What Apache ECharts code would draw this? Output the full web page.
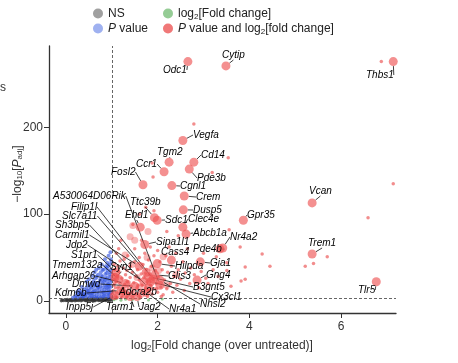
<!DOCTYPE html>
<html><head><meta charset="utf-8">
<script src="https://cdn.jsdelivr.net/npm/echarts@6/dist/echarts.min.js"></script>
<style>html,body{margin:0;padding:0;background:#fff}#c{width:458px;height:363px}</style>
</head><body><div id="c"></div>
<script>
// ---- data (log2 fold change, -log10 Padj) ----
const nsPoints = [[-0.1,0.2],[-0.05,0.5],[0,0.3],[0.02,0.8],[0.05,0.1],[0.08,1.0],[0.1,0.4],[0.12,1.5],[0.15,0.7],[0.18,1.2],[0.2,0.2],[0.22,2.0],[0.25,1.0],[0.28,0.5],[0.3,1.8],[0.32,2.5],[0.35,0.9],[0.38,1.4],[0.4,2.2],[0.42,0.3],[0.45,1.7],[0.48,2.8],[0.5,1.1],[0.52,0.6],[0.55,2.3],[0.58,1.5],[0.6,2.9],[0.62,0.8],[0.65,1.9],[0.68,2.6],[0.7,1.2],[0.72,0.4],[0.75,2.1],[0.78,2.8],[0.8,1.6],[0.82,0.9],[0.85,2.4],[0.88,1.3],[0.9,2.7],[0.92,0.5],[0.95,1.8],[0.97,2.2],[0.99,1.0],[-0.08,1.1],[0.03,1.6],[0.13,0.1],[0.23,0.6],[0.33,0.2],[0.43,1.0],[0.53,1.9],[0.63,0.2],[0.73,1.6],[0.83,2.9],[0.93,1.4],[0.36,2.9],[0.57,0.3],[0.67,1.0],[0.77,0.7],[0.87,0.3],[0.47,0.7],[0.6,0.5],[0.7,2.4],[0.8,0.3],[0.9,1.9],[0.96,0.6],[0.85,1.1],[0.75,0.9],[0.65,2.8],[0.55,0.9],[0.45,0.2]];
const pPoints = [[0.15,3.5],[0.2,4.5],[0.22,6],[0.25,3.8],[0.28,7.5],[0.3,5],[0.32,9],[0.35,4.2],[0.35,11],[0.38,6.5],[0.4,8],[0.4,13],[0.42,4.5],[0.45,10],[0.45,15],[0.48,6],[0.5,12],[0.5,18],[0.52,4],[0.52,8.5],[0.55,14],[0.55,20],[0.57,6],[0.58,10],[0.6,16],[0.6,23],[0.62,4.5],[0.62,8],[0.63,12],[0.65,18],[0.65,26],[0.67,6],[0.68,10],[0.68,14],[0.7,21],[0.7,30],[0.72,5],[0.72,9],[0.73,13],[0.75,17],[0.75,25],[0.76,33],[0.78,7],[0.78,11],[0.8,15],[0.8,20],[0.8,28],[0.82,5],[0.82,36],[0.83,9],[0.84,13],[0.85,18],[0.85,24],[0.86,31],[0.87,40],[0.88,7],[0.88,11],[0.9,15],[0.9,22],[0.9,27],[0.91,35],[0.92,5],[0.92,9],[0.93,13],[0.93,19],[0.94,25],[0.95,30],[0.95,42],[0.96,7],[0.96,11],[0.97,16],[0.97,21],[0.98,28],[0.98,36],[0.99,45],[0.99,4],[0.99,10],[0.58,29],[0.45,22],[0.35,16],[0.28,12],[0.5,25],[0.62,33],[0.72,38],[0.85,48],[0.93,52],[0.97,56],[0.9,44],[0.78,42],[0.66,36],[0.55,6],[0.64,21],[0.74,22],[0.84,6],[0.94,17],[0.89,32],[0.79,24],[0.69,17],[0.59,19],[0.49,9],[0.39,5],[0.3,8],[0.24,10],[0.42,7],[0.53,16],[0.61,11],[0.67,28],[0.71,16],[0.77,29],[0.81,10],[0.83,22],[0.87,16],[0.91,19],[0.95,8],[0.97,33],[0.99,24],[0.89,38],[0.76,4],[0.66,4],[0.56,9],[0.47,12],[0.37,8],[0.86,26],[0.92,40],[0.98,48],[0.94,3.6],[0.8,36]];
const fcPoints = [[1.05,1.2],[1.1,2.5],[1.2,0.8],[1.3,2.0],[1.45,1.5],[1.6,2.7],[1.8,1.0],[2.1,2.2]];
const bothPoints = [[1.02,4],[1.02,8],[1.03,12],[1.04,18],[1.05,25],[1.03,30],[1.06,36],[1.05,42],[1.08,6],[1.08,15],[1.1,22],[1.1,10],[1.12,28],[1.12,4],[1.14,16],[1.15,34],[1.16,8],[1.18,20],[1.18,46],[1.2,12],[1.2,5],[1.22,26],[1.24,14],[1.25,38],[1.26,7],[1.28,19],[1.3,30],[1.3,10],[1.32,4],[1.34,22],[1.35,52],[1.36,14],[1.38,8],[1.4,27],[1.4,40],[1.42,17],[1.44,5],[1.45,33],[1.46,11],[1.48,21],[1.5,60],[1.5,45],[1.52,8],[1.53,28],[1.55,15],[1.56,36],[1.58,6],[1.6,24],[1.6,50],[1.62,12],[1.64,31],[1.65,70],[1.66,18],[1.68,42],[1.7,9],[1.7,27],[1.72,55],[1.74,15],[1.75,36],[1.77,22],[1.78,5],[1.8,47],[1.8,12],[1.82,30],[1.84,62],[1.85,18],[1.87,40],[1.88,8],[1.9,25],[1.92,52],[1.93,14],[1.95,35],[1.97,20],[2.0,10],[2.0,58],[2.02,28],[2.05,45],[2.07,16],[2.1,36],[2.12,7],[2.15,24],[2.18,52],[2.2,14],[2.22,33],[2.25,62],[2.28,20],[2.3,40],[2.33,10],[2.36,28],[2.4,55],[2.42,18],[2.45,36],[2.5,25],[2.55,45],[2.58,12],[2.6,32],[2.7,20],[2.72,38],[2.8,30],[2.9,15],[2.95,34],[3.05,26],[1.15,60],[1.2,70],[1.1,55],[1.06,20],[1.09,3.5],[1.13,40],[1.22,3.5],[1.27,48],[1.33,35],[1.43,10],[1.57,18],[1.63,4],[1.73,32],[1.83,22],[1.98,14],[2.08,5],
 [6.88,276],[2.79,204],[3.54,165],[3.19,148],[7.14,135],[6.59,96],[3.56,82],[3.8,62],[4.28,54],[5.7,51],[5.4,43],[5.22,40],[4.45,40],[3.91,39],[3.51,44],[3.51,35],[3.91,25],[3.82,23],[3.6,17],[3.32,28],[3.21,36],[3.28,51],[1.9,143],[1.88,159],[1.74,108],[1.92,104],[1.46,88],[1.6,100],[2.2,80],[2.45,75],[3.0,55],[3.1,20],[2.65,60]];
const bothPointsMid = [[1.77,50],[1.88,38],[1.55,27],[2.12,51],[1.62,16],[2.2,18],[1.44,42],[1.5,70],[1.4,74],[1.07,28],[1.29,53],[1.46,87],[1.79,80],[1.25,12],[1.35,20],[1.65,8],[2.4,30],[2.02,35]];
const geneNames = ['Odc1','Cytip','Thbs1','Vegfa','Tgm2','Cd14','Pde3b','Ccr1','Fosl2','Cgnl1','Crem','Dusp5','Ttc39b','Sdc1','Ehd1','Clec4e','Abcb1a','Gpr35','Vcan','Nr4a2','Pde4b','Sipa1l1','Cass4','Hilpda','Gja1','Glis3','Gng4','B3gnt5','Cx3cl1','Nhsl2','Nr4a1','Trem1','Tlr5','A530064D06Rik','Filip1l','Slc7a11','Sh3bp5','Carmil1','Jdp2','S1pr1','Tmem132a','Syn1','Arhgap26','Dmwd','Kdm6b','Inpp5j','Tarm1','Adora2b','Jag2'];
const geneLog2FC = [2.66,3.49,7.14,2.55,2.25,2.79,2.69,2.14,1.68,2.31,2.58,2.56,1.93,1.99,1.62,2.55,2.62,3.87,5.37,3.42,3.36,1.72,2.3,1.99,2.93,1.94,2.86,1.8,1.85,2.05,1.75,5.37,6.77,2.05,1.9,1.75,1.8,1.6,1.7,1.09,1.15,1.07,1.3,1.5,1.2,1.05,1.4,1.3,1.55];
const geneNegLogP = [276,271,276,185,160,160,152,149,134,133,121,105,96,93,85,85,77,93,113,61,60,65,47,43,45,30,24,28,22,24,10,54,22,18,25,33,15,40,22,33,25,27,20,17,12,6,5,8,5];
const xTicks = [0,2,4,6];
const yTicks = [0,100,200];

// ---- layout: label anchor (left x, middle y) in pixels ----
const labelAt = {Odc1:[163,70],Cytip:[222,55],Thbs1:[366,75],Vegfa:[193,135],Tgm2:[157,152],Cd14:[201,155],Pde3b:[197,178],Ccr1:[136,164],Fosl2:[111,172],Cgnl1:[180,186],Crem:[196,197],Dusp5:[193,210],Ttc39b:[130,202],Sdc1:[165,220],Ehd1:[125,215],Clec4e:[188,219],Abcb1a:[193,233],Gpr35:[247,215],Vcan:[309,191],Nr4a2:[230,237],Pde4b:[193,249],Sipa1l1:[156,242],Cass4:[161,252],Hilpda:[175,266],Gja1:[210,263],Glis3:[168,276],Gng4:[206,275],B3gnt5:[193,287],Cx3cl1:[211,297],Nhsl2:[200,304],Nr4a1:[169,309],Trem1:[308,243],Tlr5:[358,290],A530064D06Rik:[53,196],Filip1l:[71,207],Slc7a11:[62,216],Sh3bp5:[55,225],Carmil1:[55,235],Jdp2:[66,245],S1pr1:[71,255],Tmem132a:[52,265],Syn1:[110,267],Arhgap26:[52,276],Dmwd:[72,284],Kdm6b:[55,293],Inpp5j:[66,307],Tarm1:[106,307],Adora2b:[119,292],Jag2:[139,307]};

const FONT = 'Liberation Sans, Arial, sans-serif';
const labeled = geneNames.map((n,i)=>({name:n, value:[geneLog2FC[i], geneNegLogP[i]]}));

const chart = echarts.init(document.getElementById('c'));
const legendRich = {
  i:{fontStyle:'italic', fontSize:12, fontFamily:FONT, color:'#222', lineHeight:15},
  s:{fontSize:8, fontFamily:FONT, color:'#222', lineHeight:9, verticalAlign:'bottom'}
};
const legendFmt = n => ({'NS':'NS','P value':'{i|P} value','log2FC':'log{s|2}[Fold change]','both':'{i|P} value and log{s|2}[fold change]'}[n]);
chart.setOption({
  animation:false,
  grid:{left:49, right:62, top:46, bottom:50},
  legend:[
    {left:88, top:1, orient:'vertical', itemGap:0, itemWidth:10, itemHeight:10, icon:'circle', selectedMode:false,
     textStyle:{fontSize:12, fontFamily:FONT, color:'#222', lineHeight:15, rich:legendRich}, formatter:legendFmt,
     data:[{name:'NS', itemStyle:{color:'#a0a0a0', opacity:1}}, {name:'P value', itemStyle:{color:'#9fb1f0', opacity:1}}]},
    {left:158, top:1, orient:'vertical', itemGap:0, itemWidth:10, itemHeight:10, icon:'circle', selectedMode:false,
     textStyle:{fontSize:12, fontFamily:FONT, color:'#222', lineHeight:15, rich:legendRich}, formatter:legendFmt,
     data:[{name:'log2FC', itemStyle:{color:'#95cc95', opacity:1}}, {name:'both', itemStyle:{color:'#f07878', opacity:1}}]}
  ],
  xAxis:{type:'value', min:-0.37, max:7.2, splitLine:{show:false},
    axisLine:{onZero:false, lineStyle:{color:'#333', width:1.3}},
    axisTick:{customValues:xTicks, length:5, lineStyle:{color:'#333'}},
    axisLabel:{customValues:xTicks, fontSize:12, fontFamily:FONT, color:'#333', margin:8}},
  yAxis:{type:'value', min:-14, max:294, splitLine:{show:false},
    axisLine:{show:true, onZero:false, lineStyle:{color:'#333', width:1.3}},
    axisTick:{show:true, customValues:yTicks, length:5, lineStyle:{color:'#333'}},
    axisLabel:{customValues:yTicks, fontSize:12, fontFamily:FONT, color:'#333', margin:6}},
  graphic:[
    {type:'text', left:0, top:82, style:{text:'s', font:'12px '+FONT, fill:'#333'}},
    {type:'text', x:222, y:346, style:{text:'log{s|2}[Fold change (over untreated)]', align:'center', verticalAlign:'middle',
      font:'12px '+FONT, fill:'#333', rich:{s:{fontSize:8, fontFamily:FONT, fill:'#333', lineHeight:9, verticalAlign:'bottom'}}}},
    {type:'text', x:18, y:174, rotation:Math.PI/2, style:{text:'\u2212log{s|10}[{i|P}{s|adj}]', align:'center', verticalAlign:'middle',
      font:'12px '+FONT, fill:'#333', rich:{s:{fontSize:8, fontFamily:FONT, fill:'#333', lineHeight:9, verticalAlign:'bottom'}, i:{fontStyle:'italic', fontSize:12, fontFamily:FONT, fill:'#333'}}}}
  ],
  series:[
    {name:'NS', type:'scatter', data:nsPoints, symbolSize:3.5, itemStyle:{color:'#333', opacity:0.75}, z:2,
     markLine:{silent:true, symbol:'none', label:{show:false}, lineStyle:{color:'#555', type:[3,2], width:0.9},
       data:[{xAxis:1},{yAxis:3}]}},
    {name:'P value', type:'scatter', data:pPoints, symbolSize:4, itemStyle:{color:'#3a5ae0', opacity:0.65}, z:3},
    {name:'log2FC', type:'scatter', data:fcPoints, symbolSize:3, itemStyle:{color:'#4caa4c', opacity:0.6}, z:3},
    {name:'both', type:'scatter', data:bothPoints, symbolSize:3.5, itemStyle:{color:'#e83030', opacity:0.55}, z:4},
    {name:'both', type:'scatter', data:bothPointsMid, symbolSize:7, itemStyle:{color:'#ee4a4a', opacity:0.4}, z:4},
    {name:'both', type:'scatter', data:labeled, symbolSize:9, itemStyle:{color:'#ee5555', opacity:0.65}, z:5,
     label:{show:true, formatter:'{b}', fontSize:10, fontStyle:'italic', fontFamily:FONT, color:'#000', opacity:1, textBorderWidth:0},
     labelLine:{show:true, lineStyle:{color:'#111', width:0.8, opacity:1}},
     labelLayout:function(p){ const a = labelAt[geneNames[p.dataIndex]]; return {x:a[0], y:a[1], align:'left', verticalAlign:'middle'}; }}
  ]
});
</script></body></html>
